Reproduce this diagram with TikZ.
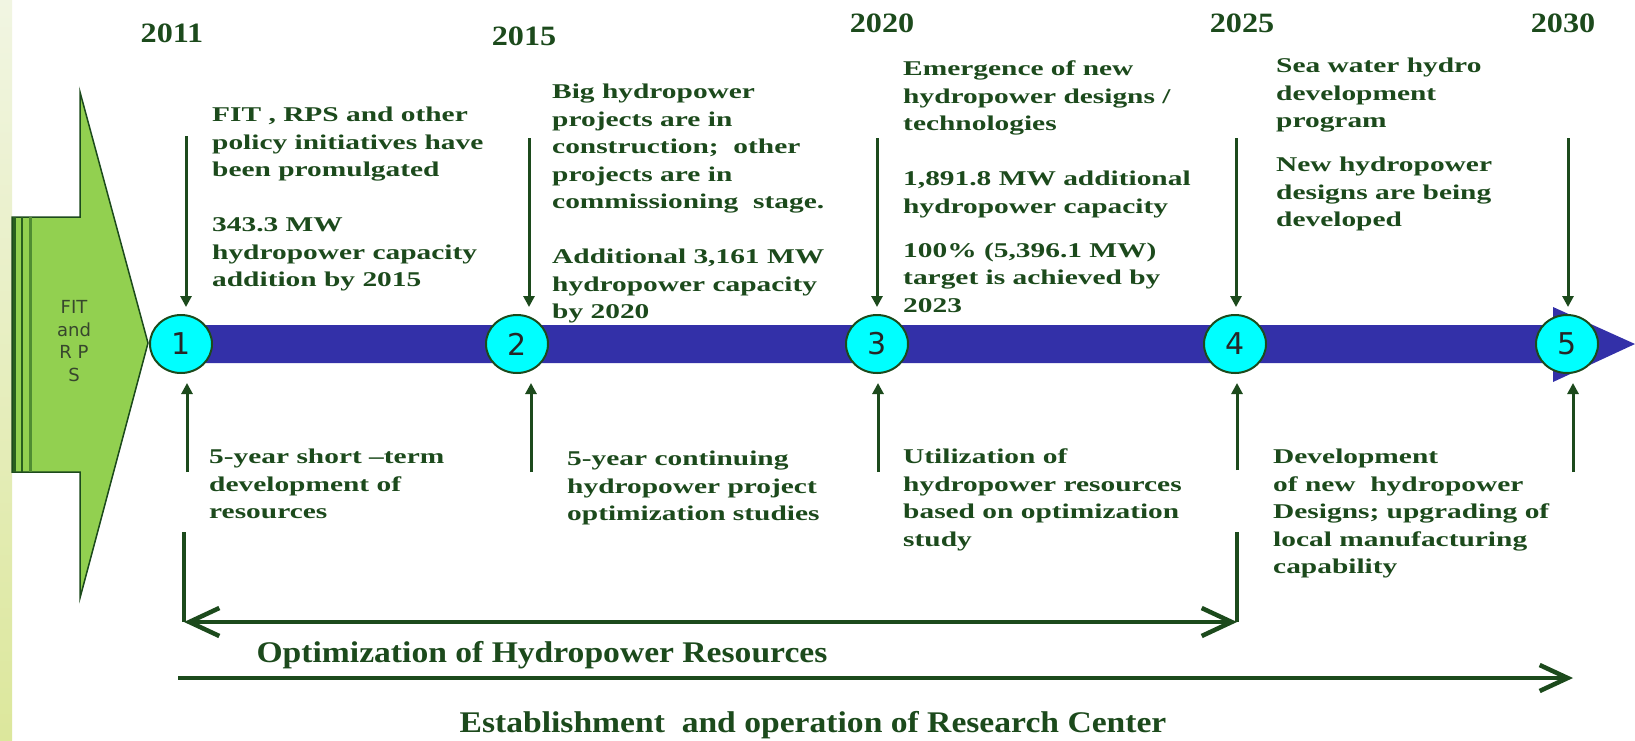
\documentclass[tikz,border=0pt]{standalone}
\usepackage{fontspec}
\setmainfont{Liberation Serif}
\newfontfamily\blkfont[FakeStretch=1.4]{Liberation Serif}
\newfontfamily\yrfont[FakeStretch=1.15]{Liberation Serif}
\newfontfamily\ttlfont[FakeStretch=1.12]{Liberation Serif}
\newfontfamily\sansfnt{DejaVu Sans}
\usetikzlibrary{arrows.meta,shapes.geometric}
\definecolor{dkg}{RGB}{28,74,28}
\definecolor{barblue}{RGB}{51,48,168}
\definecolor{cyanf}{RGB}{0,255,255}
\definecolor{leafgreen}{RGB}{146,208,80}
\definecolor{stripeA}{RGB}{241,245,226}
\definecolor{stripeB}{RGB}{220,231,156}
\definecolor{fitgray}{RGB}{55,70,45}
\definecolor{lineA}{RGB}{40,95,30}
\definecolor{lineB}{RGB}{80,140,50}
\begin{document}
\begin{tikzpicture}[x=1pt,y=-1pt,
  blk/.style={anchor=north west, inner sep=0pt, align=left, text=dkg, font=\blkfont\bfseries\fontsize{21}{27.5}\selectfont},
  yr/.style={inner sep=0pt, text=dkg, font=\yrfont\bfseries\fontsize{28}{28}\selectfont},
  ttl/.style={inner sep=0pt, text=dkg, font=\ttlfont\bfseries\fontsize{30}{30}\selectfont},
  mile/.style={ellipse, draw=dkg, line width=2pt, fill=cyanf, minimum width=62pt, minimum height=58pt, inner sep=0pt, font=\sansfnt\fontsize{30}{30}\selectfont, text=black!85},
  darr/.style={draw=dkg, line width=3pt, -{Triangle[length=11pt,width=11pt]}},
  brk/.style={draw=dkg, line width=4.5pt},
  barb/.style={draw=dkg, line width=4.5pt, {Straight Barb[length=30pt,width=28pt]}-{Straight Barb[length=30pt,width=28pt]}},
  longarr/.style={draw=dkg, line width=4.5pt, -{Straight Barb[length=28pt,width=26pt]}},
]
\fill[white] (0,0) rectangle (1635,740);
\useasboundingbox (0,0) rectangle (1635,740);

% left strip
\shade[top color=stripeA, bottom color=stripeB] (0,0) rectangle (12,740);

% green FIT arrow
\draw[fill=leafgreen, draw=dkg, line width=1.5pt] (12,217) -- (80,217) -- (80,92) -- (148,343) -- (80,598) -- (80,472) -- (12,472) -- cycle;
\draw[lineA, line width=3pt] (14.5,217) -- (14.5,472);
\draw[lineA, line width=2pt] (21.5,217) -- (21.5,472);
\draw[lineB, line width=3.5pt] (30.5,217) -- (30.5,472);
\node[font=\sansfnt\fontsize{18}{22.5}\selectfont, text=fitgray, align=center, inner sep=0pt] (fit) at (74,341) {FIT\\and\\R P\\S};

% blue timeline arrow
\fill[barblue] (181,325) -- (1553,325) -- (1553,307) -- (1635,344) -- (1553,382) -- (1553,363) -- (181,363) -- cycle;

% milestones
\node[mile] (c1) at (181,344) {1};
\node[mile] (c2) at (517,344) {2};
\node[mile] (c3) at (877,344) {3};
\node[mile] (c4) at (1235,344) {4};
\node[mile] (c5) at (1567,344) {5};

% years
\node[yr] (y1) at (172,33) {2011};
\node[yr] (y2) at (524,36) {2015};
\node[yr] (y3) at (882,23) {2020};
\node[yr] (y4) at (1242,23) {2025};
\node[yr] (y5) at (1563,23) {2030};

% down arrows
\coordinate (d1) at (186,136);
\coordinate (d2) at (529,138);
\coordinate (d3) at (877,138);
\coordinate (d4) at (1236,138);
\coordinate (d5) at (1568,138);
\draw[darr, shorten >=7pt] (d1) -- (d1 |- c1.north);
\draw[darr, shorten >=7pt] (d2) -- (d2 |- c2.north);
\draw[darr, shorten >=7pt] (d3) -- (d3 |- c3.north);
\draw[darr, shorten >=7pt] (d4) -- (d4 |- c4.north);
\draw[darr, shorten >=7pt] (d5) -- (d5 |- c5.north);

% up arrows
\coordinate (u1) at (187,472);
\coordinate (u2) at (531,472);
\coordinate (u3) at (878,472);
\coordinate (u4) at (1237,470);
\coordinate (u5) at (1573,472);
\draw[darr, shorten >=9pt] (u1) -- (u1 |- c1.south);
\draw[darr, shorten >=9pt] (u2) -- (u2 |- c2.south);
\draw[darr, shorten >=9pt] (u3) -- (u3 |- c3.south);
\draw[darr, shorten >=9pt] (u4) -- (u4 |- c4.south);
\draw[darr, shorten >=9pt] (u5) -- (u5 |- c5.south);

% optimization bracket
\coordinate (bL) at (184,532);
\coordinate (bR) at (1237,532);
\coordinate (oL) at (184,622);
\coordinate (oR) at (1237,622);
\draw[brk] (bL) -- (oL);
\draw[brk] (bR) -- (oR);
\draw[barb] (oL) -- (oR);
\node[ttl] (opt) at (542,655) {Optimization of Hydropower Resources};

% research center arrow
\coordinate (eL) at (178,678);
\coordinate (eR) at (1573,678);
\draw[longarr] (eL) -- (eR);
\node[ttl] (est) at (813,725) {Establishment\ \ and operation of Research Center};

% upper texts
\node[blk] (ta) at (212,107) {FIT , RPS and other\\policy initiatives have\\been promulgated\\[27.5pt]343.3 MW\\hydropower capacity\\addition by 2015};
\node[blk] (tb) at (552,84) {Big hydropower\\projects are in\\construction;\ \ other\\projects are in\\commissioning\ \ stage.\\[27.5pt]Additional 3,161 MW\\hydropower capacity\\by 2020};
\node[blk] (tc) at (903,61) {Emergence of new\\hydropower designs /\\technologies\\[27.5pt]1,891.8 MW additional\\hydropower capacity\\[16.5pt]100\% (5,396.1 MW)\\target is achieved by\\2023};
\node[blk] (td) at (1276,58) {Sea water hydro\\development\\program\\[16.5pt]New hydropower\\designs are being\\developed};

% lower texts
\node[blk] (te) at (209,449) {5-year short –term\\development of\\resources};
\node[blk] (tf) at (567,451) {5-year continuing\\hydropower project\\optimization studies};
\node[blk] (tg) at (903,449) {Utilization of\\hydropower resources\\based on optimization\\study};
\node[blk] (th) at (1273,449) {Development\\of new\ \ hydropower\\Designs; upgrading of\\local manufacturing\\capability};
\end{tikzpicture}
\end{document}
